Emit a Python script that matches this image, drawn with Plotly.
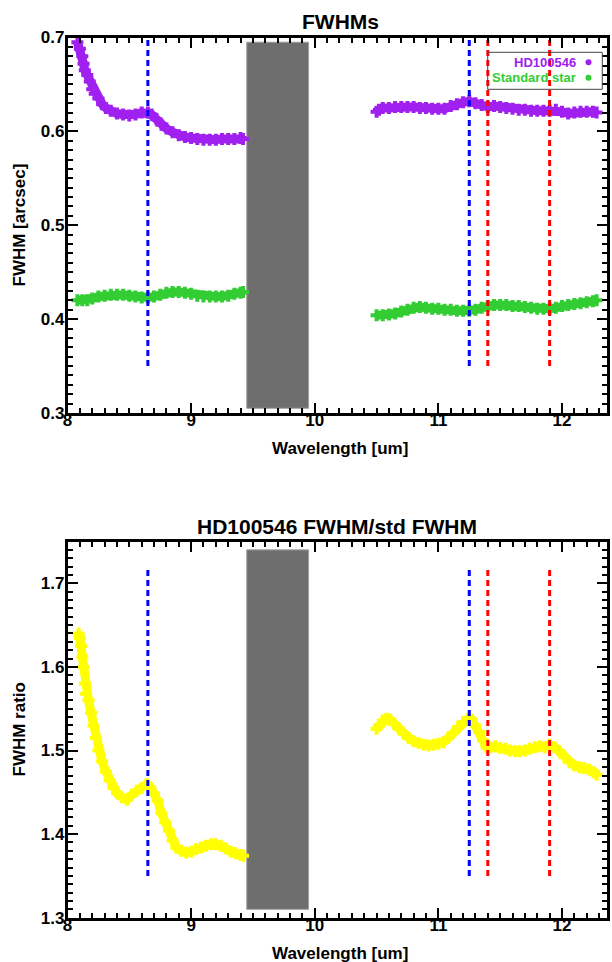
import plotly.graph_objects as go

# ---- HD100546 FWHM [arcsec] vs wavelength [um] ----
sci_wl_a = [8.08, 8.10, 8.12, 8.13, 8.14, 8.16, 8.18, 8.20, 8.22, 8.25, 8.28, 8.31,
            8.35, 8.40, 8.45, 8.50, 8.55, 8.60, 8.65, 8.68, 8.72, 8.76, 8.80, 8.85,
            8.90, 8.95, 9.00, 9.05, 9.10, 9.15, 9.20, 9.25, 9.30, 9.35, 9.40, 9.42]
sci_fwhm_a = [0.695, 0.688, 0.680, 0.672, 0.665, 0.660, 0.653, 0.645, 0.640, 0.635, 0.629, 0.625,
              0.622, 0.619, 0.618, 0.617, 0.618, 0.620, 0.620, 0.618, 0.613, 0.607, 0.603, 0.599,
              0.596, 0.594, 0.593, 0.592, 0.591, 0.591, 0.591, 0.592, 0.592, 0.592, 0.593, 0.592]

sci_wl_b = [10.50, 10.52, 10.55, 10.60, 10.65, 10.70, 10.75, 10.80, 10.85, 10.90, 10.95, 11.00,
            11.05, 11.10, 11.15, 11.20, 11.25, 11.30, 11.35, 11.40, 11.45, 11.50, 11.55, 11.60,
            11.65, 11.70, 11.75, 11.80, 11.85, 11.90, 11.95, 12.00, 12.05, 12.10, 12.15, 12.20,
            12.25, 12.28]
sci_fwhm_b = [0.621, 0.623, 0.625, 0.625, 0.626, 0.626, 0.626, 0.626, 0.625, 0.625, 0.624, 0.624,
              0.624, 0.627, 0.629, 0.631, 0.632, 0.630, 0.628, 0.626, 0.627, 0.626, 0.625, 0.624,
              0.623, 0.623, 0.622, 0.622, 0.622, 0.622, 0.623, 0.621, 0.619, 0.620, 0.621, 0.621,
              0.621, 0.620]

# ---- Standard star FWHM [arcsec] ----
std_wl_a = [8.08, 8.12, 8.16, 8.20, 8.25, 8.30, 8.35, 8.40, 8.45, 8.50, 8.55, 8.60, 8.65, 8.70,
            8.75, 8.80, 8.85, 8.90, 8.95, 9.00, 9.05, 9.10, 9.15, 9.20, 9.25, 9.30, 9.35, 9.40,
            9.42]
std_fwhm_a = [0.420, 0.420, 0.420, 0.422, 0.424, 0.425, 0.426, 0.426, 0.426, 0.425, 0.424, 0.423,
              0.423, 0.424, 0.426, 0.428, 0.429, 0.429, 0.428, 0.427, 0.425, 0.424, 0.424, 0.424,
              0.424, 0.425, 0.427, 0.428, 0.429]

std_wl_b = [10.50, 10.55, 10.60, 10.65, 10.70, 10.75, 10.80, 10.85, 10.90, 10.95, 11.00, 11.05,
            11.10, 11.15, 11.20, 11.25, 11.30, 11.35, 11.40, 11.45, 11.50, 11.55, 11.60, 11.65,
            11.70, 11.75, 11.80, 11.85, 11.90, 11.95, 12.00, 12.05, 12.10, 12.15, 12.20, 12.25,
            12.28]
std_fwhm_b = [0.404, 0.404, 0.405, 0.406, 0.408, 0.410, 0.412, 0.413, 0.412, 0.411, 0.411, 0.410,
              0.410, 0.409, 0.409, 0.409, 0.410, 0.412, 0.414, 0.415, 0.415, 0.415, 0.414, 0.414,
              0.413, 0.412, 0.411, 0.411, 0.411, 0.412, 0.414, 0.415, 0.416, 0.417, 0.418, 0.419,
              0.420]

# ---- FWHM ratio (HD100546 / standard) ----
ratio_wl_a = [8.09, 8.10, 8.11, 8.12, 8.13, 8.14, 8.15, 8.17, 8.19, 8.21, 8.23, 8.25, 8.28, 8.31,
              8.34, 8.37, 8.40, 8.44, 8.48, 8.52, 8.56, 8.60, 8.64, 8.67, 8.70, 8.73, 8.76, 8.79,
              8.82, 8.85, 8.88, 8.92, 8.96, 9.00, 9.04, 9.08, 9.12, 9.16, 9.20, 9.24, 9.28, 9.32,
              9.36, 9.40, 9.42]
ratio_a = [1.640, 1.635, 1.625, 1.612, 1.600, 1.580, 1.568, 1.560, 1.545, 1.530, 1.515, 1.500,
           1.487, 1.475, 1.464, 1.455, 1.449, 1.444, 1.441, 1.447, 1.452, 1.455, 1.460, 1.456,
           1.449, 1.440, 1.425, 1.414, 1.404, 1.392, 1.384, 1.380, 1.378, 1.379, 1.382, 1.384,
           1.386, 1.388, 1.388, 1.386, 1.383, 1.379, 1.377, 1.375, 1.374]

ratio_wl_b = [10.50, 10.52, 10.55, 10.58, 10.61, 10.64, 10.68, 10.72, 10.76, 10.80, 10.84, 10.88,
              10.92, 10.96, 11.00, 11.04, 11.08, 11.12, 11.16, 11.20, 11.24, 11.27, 11.30, 11.33,
              11.36, 11.39, 11.42, 11.46, 11.50, 11.54, 11.58, 11.62, 11.66, 11.70, 11.74, 11.78,
              11.82, 11.86, 11.90, 11.94, 11.98, 12.02, 12.06, 12.10, 12.14, 12.18, 12.22, 12.26,
              12.28]
ratio_b = [1.526, 1.530, 1.536, 1.538, 1.537, 1.532, 1.526, 1.520, 1.515, 1.511, 1.509, 1.507,
           1.506, 1.507, 1.508, 1.510, 1.515, 1.521, 1.528, 1.534, 1.538, 1.537, 1.530, 1.522,
           1.512, 1.504, 1.504, 1.505, 1.503, 1.502, 1.500, 1.499, 1.499, 1.500, 1.502, 1.504,
           1.505, 1.504, 1.507, 1.504, 1.499, 1.492, 1.486, 1.482, 1.480, 1.479, 1.477, 1.474,
           1.471]

# feature markers (um) and the blocked ozone window
blue_lines = [8.65, 11.25]
red_lines = [11.40, 11.90]
ozone_band = [9.45, 9.95]
top_rect_y = [0.305, 0.695]
bot_rect_y = [1.31, 1.74]
top_line_y = [0.35, 0.70]
bot_line_y = [1.35, 1.72]

x_range = [8.0, 12.36]
top_y_range = [0.3, 0.7]
bot_y_range = [1.3, 1.75]

PURPLE = "#a020f0"
GREEN = "#32cd32"
YELLOW = "#ffff00"
FONT = "Liberation Sans, Arial, Helvetica, sans-serif"

W, H = 612, 962


def px_x(p):
    return p / W


def px_y(p):
    return 1 - p / H


fig = go.Figure()


def band(x, y, color, xa, ya):
    fig.add_trace(go.Scatter(
        x=x, y=y, mode="lines+markers", xaxis=xa, yaxis=ya,
        line=dict(color=color, width=9),
        marker=dict(symbol="cross", size=10, color=color, line=dict(width=0)),
        showlegend=False, hoverinfo="skip"))


band(sci_wl_a, sci_fwhm_a, PURPLE, "x", "y")
band(sci_wl_b, sci_fwhm_b, PURPLE, "x", "y")
band(std_wl_a, std_fwhm_a, GREEN, "x", "y")
band(std_wl_b, std_fwhm_b, GREEN, "x", "y")
band(ratio_wl_a, ratio_a, YELLOW, "x2", "y2")
band(ratio_wl_b, ratio_b, YELLOW, "x2", "y2")

# dashed feature lines, drawn on the labelled (major-tick) axes of each panel
for xa, ya, ys in (("x3", "y3", top_line_y), ("x4", "y4", bot_line_y)):
    for xv in blue_lines:
        fig.add_trace(go.Scatter(x=[xv, xv], y=ys, mode="lines", xaxis=xa, yaxis=ya,
                                 line=dict(color="#0000ff", width=3, dash="6px,4px"),
                                 showlegend=False, hoverinfo="skip"))
    for xv in red_lines:
        fig.add_trace(go.Scatter(x=[xv, xv], y=ys, mode="lines", xaxis=xa, yaxis=ya,
                                 line=dict(color="#ff0000", width=3, dash="6px,4px"),
                                 showlegend=False, hoverinfo="skip"))

shapes = []
for xr, yr, ys in (("x", "y", top_rect_y), ("x2", "y2", bot_rect_y)):
    shapes.append(dict(type="rect", xref=xr, yref=yr, x0=ozone_band[0], x1=ozone_band[1],
                       y0=ys[0], y1=ys[1], fillcolor="#6e6e6e",
                       line=dict(color="#a0a0a0", width=1), layer="below"))

# legend box in the upper panel
shapes.append(dict(type="rect", xref="paper", yref="paper",
                   x0=px_x(487.7), x1=px_x(602.3), y0=px_y(89.3), y1=px_y(52.3),
                   line=dict(color="#444444", width=1), fillcolor="rgba(0,0,0,0)"))
for cy, col in ((62.3, PURPLE), (77.7, GREEN)):
    shapes.append(dict(type="circle", xref="paper", yref="paper",
                       x0=px_x(585.5), x1=px_x(591.5), y0=px_y(cy + 3), y1=px_y(cy - 3),
                       fillcolor=col, line=dict(color=col, width=0)))

tick_font = dict(family=FONT, size=17, color="black", weight="bold")

# base axes: frame + short minor ticks; overlay axes: long major ticks + labels
minor_axis = dict(
    showline=True, linecolor="black", linewidth=3, mirror="allticks",
    ticks="inside", ticklen=5, tickwidth=2, tickcolor="black",
    showgrid=False, zeroline=False, automargin=False, tickmode="linear",
    showticklabels=False,
)
major_axis = dict(
    showline=False, mirror="allticks",
    ticks="inside", ticklen=10, tickwidth=2, tickcolor="black",
    showgrid=False, zeroline=False, automargin=False, tickmode="linear",
    showticklabels=True, tickfont=tick_font,
)

top_dom = [px_y(413.0), px_y(37.5)]
bot_dom = [px_y(917.7), px_y(541.5)]
x_dom = [px_x(67.5), px_x(606.5)]

fig.update_layout(
    width=W, height=H, autosize=False,
    margin=dict(l=0, r=0, t=0, b=0, pad=0),
    paper_bgcolor="white", plot_bgcolor="white",
    # upper panel
    xaxis=dict(minor_axis, domain=x_dom, range=x_range, tick0=8, dtick=0.1, anchor="y"),
    yaxis=dict(minor_axis, domain=top_dom, range=top_y_range, tick0=0.3, dtick=0.01, anchor="x"),
    xaxis3=dict(major_axis, overlaying="x", anchor="y3", side="bottom", range=x_range,
                domain=x_dom, tick0=8, dtick=1, ticklabelstandoff=-5),
    yaxis3=dict(major_axis, overlaying="y", anchor="x3", side="left", range=top_y_range,
                domain=top_dom, tick0=0.3, dtick=0.1, tickformat=".1f", ticklabelstandoff=2),
    # lower panel
    xaxis2=dict(minor_axis, domain=x_dom, range=x_range, tick0=8, dtick=0.1, anchor="y2"),
    yaxis2=dict(minor_axis, domain=bot_dom, range=bot_y_range, tick0=1.3, dtick=0.01, anchor="x2"),
    xaxis4=dict(major_axis, overlaying="x2", anchor="y4", side="bottom", range=x_range,
                domain=x_dom, tick0=8, dtick=1, ticklabelstandoff=-5),
    yaxis4=dict(major_axis, overlaying="y2", anchor="x4", side="left", range=bot_y_range,
                domain=bot_dom, tick0=1.3, dtick=0.1, tickformat=".1f", ticklabelstandoff=2),
    shapes=shapes,
)


def label(text, x, y, size, color="black", angle=0, xanchor="center"):
    fig.add_annotation(text="<b>" + text + "</b>", x=x, y=y, xref="paper", yref="paper",
                       showarrow=False, xanchor=xanchor, yanchor="middle", textangle=angle,
                       font=dict(family=FONT, size=size, color=color))


label("FWHMs", px_x(340), px_y(21.5), 21)
label("HD100546 FWHM/std FWHM", px_x(337), px_y(526), 21)
label("Wavelength [um]", px_x(339.5), px_y(448), 17)
label("Wavelength [um]", px_x(339.5), px_y(953), 17)
label("FWHM [arcsec]", px_x(18.5), px_y(225), 17, angle=-90)
label("FWHM ratio", px_x(18.5), px_y(730), 17, angle=-90)
label("HD100546", px_x(578), px_y(62.3), 13, color=PURPLE, xanchor="right")
label("Standard star", px_x(578), px_y(77.7), 13, color=GREEN, xanchor="right")

fig.write_html("out.html")
